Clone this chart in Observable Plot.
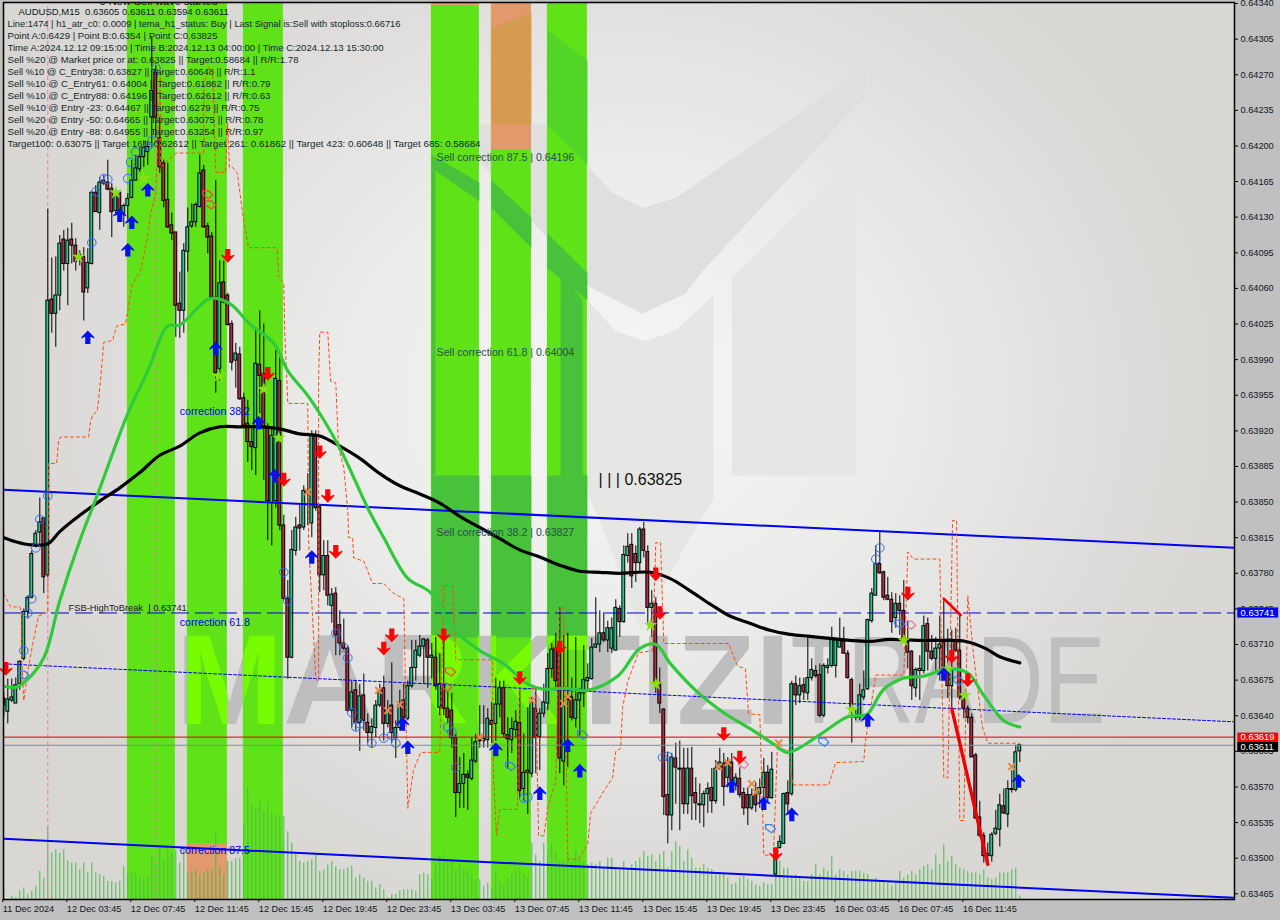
<!DOCTYPE html>
<html><head><meta charset="utf-8">
<script src="https://cdn.jsdelivr.net/npm/d3@7"></script>
<script src="https://cdn.jsdelivr.net/npm/@observablehq/plot@0.6"></script>
<style>
html,body{margin:0;padding:0;background:#c0c0c0;overflow:hidden}
#wrap{position:relative;width:1280px;height:920px}
#bg{position:absolute;left:3px;top:2px;width:1231px;height:897px;background:radial-gradient(ellipse 640px 560px at 50% 44%,#f6f6f6 0%,#ebebea 45%,#dddcda 80%,#d8d7d4 100%)}
#chart{position:absolute;left:0;top:0}
</style></head><body><div id="wrap"><div id="bg"></div><div id="chart"></div></div>
<script>
// All candle values are points above 0.63000 (655 = 0.63655), one per 15-minute bar.
const candleOpen=[657,644,655,652,671,696,742,756,807,820,
834,778,1049,1035,1053,1108,1084,1108,1102,1093,
1091,1060,1084,1154,1134,1166,1164,1158,1136,1154,
1133,1141,1149,1166,1177,1189,1194,1228,1272,1208,
1183,1147,1122,1115,1045,1038,1096,1121,1125,1140,
1176,1121,1111,1051,981,1066,1053,1025,989,995,
952,927,909,903,985,976,923,849,851,969,
827,755,697,802,827,825,861,829,915,845,
778,797,748,760,729,711,706,645,665,633,
660,633,623,628,650,667,632,650,618,628,
655,637,669,687,699,708,714,697,697,648,
671,647,645,618,564,573,582,578,595,618,
615,616,635,632,651,667,621,616,626,633,
568,584,583,647,619,642,652,686,706,709,
595,658,658,637,655,662,674,676,707,710,
721,714,706,704,745,732,797,808,799,790,
823,801,746,750,671,646,562,542,598,587,
588,553,588,564,553,552,563,569,556,588,
593,579,594,573,578,564,562,549,563,563,
569,584,559,484,510,514,564,563,671,660,
670,662,677,684,680,640,687,689,689,707,
713,701,675,638,638,658,666,733,758,789,
781,758,754,736,750,743,712,703,667,684,
684,730,703,696,706,712,687,669,714,704,
658,647,638,601,540,522,502,502,524,528,
551,543,567,567,605];
const candleClose=[650,656,658,670,693,742,756,799,819,830,
776,1048,1035,1053,1104,1084,1107,1102,1086,1089,
1056,1085,1154,1135,1164,1163,1157,1135,1153,1136,
1141,1148,1166,1178,1189,1198,1199,1254,1228,1179,
1146,1120,1114,1043,1038,1097,1120,1125,1142,1173,
1120,1110,1051,977,1065,1046,1024,987,996,951,
925,909,904,986,974,923,851,915,971,827,
755,697,803,825,824,861,859,915,844,778,
797,758,759,719,711,706,645,663,633,659,
635,623,629,650,664,632,645,623,628,650,
638,669,687,704,708,715,697,699,669,671,
647,638,618,564,573,582,579,596,614,615,
617,637,631,651,667,622,617,627,634,566,
584,586,653,618,642,653,686,705,674,598,
650,655,638,655,662,675,677,707,710,721,
714,726,726,746,732,798,806,777,790,823,
802,746,750,671,652,560,542,599,589,588,
553,588,561,554,552,563,568,556,588,594,
570,594,576,579,562,549,549,562,552,569,
584,559,587,500,516,563,553,671,660,669,
663,677,685,679,640,689,689,716,714,714,
701,677,648,640,660,665,734,760,789,780,
756,754,732,750,743,712,702,669,685,686,
728,703,696,706,710,686,669,687,704,658,
647,638,599,539,522,502,504,523,529,552,
544,568,568,604,611];
const candleHigh=[663,676,676,677,694,745,758,802,822,854,
835,1138,1090,1091,1112,1117,1119,1124,1109,1097,
1100,1099,1155,1161,1169,1171,1186,1163,1154,1156,
1143,1153,1186,1191,1198,1205,1205,1307,1279,1228,
1186,1183,1134,1115,1076,1104,1139,1143,1144,1191,
1181,1124,1115,1166,1087,1087,1055,1028,1006,1002,
957,950,923,1021,1038,1025,927,923,999,992,
837,773,822,835,848,866,878,920,920,846,
812,812,765,766,743,735,709,674,674,671,
681,642,637,655,671,679,655,692,635,665,
671,674,714,714,719,716,716,711,717,701,
719,663,662,622,599,603,586,618,622,650,
650,647,653,677,674,674,638,638,645,665,
622,648,658,667,647,671,701,711,721,746,
719,721,677,717,667,709,691,716,756,743,
740,733,736,754,748,807,819,819,807,825,
830,807,763,756,687,647,604,603,613,615,
608,608,609,579,573,566,574,588,596,608,
603,599,603,583,589,569,569,568,574,578,
598,591,604,509,522,564,576,674,679,677,
677,717,696,689,691,691,696,727,716,736,
727,704,677,645,671,684,735,765,807,822,
782,776,761,760,758,773,733,704,687,699,
738,736,719,717,738,753,725,724,726,740,
662,650,642,603,556,525,515,525,547,563,
568,576,586,611,611];
const candleLow=[640,632,653,652,665,694,735,755,805,809,
760,776,1016,1002,1038,1077,1043,1084,1077,1082,
1028,1055,1083,1135,1117,1161,1156,1110,1132,1127,
1120,1127,1148,1165,1174,1179,1181,1198,1208,1173,
1139,1119,1107,1012,1011,1016,1076,1119,1120,1139,
1119,1094,1050,957,969,1045,1023,979,962,950,
923,889,881,876,937,871,812,807,844,822,
753,676,696,797,802,822,827,815,841,761,
763,748,731,699,699,704,643,628,625,605,
625,613,608,618,648,615,628,613,598,625,
625,635,667,674,697,671,667,676,665,640,
640,632,608,540,549,549,547,576,593,608,
608,608,613,615,638,618,588,603,618,559,
556,543,579,583,586,638,645,677,665,583,
571,589,635,628,620,648,663,675,706,702,
712,702,701,704,717,731,790,765,771,780,
795,731,717,662,642,542,514,527,553,527,
543,543,537,537,534,530,544,544,553,586,
551,569,566,566,559,542,532,547,545,549,
549,556,558,482,509,514,544,561,650,652,
655,655,674,677,638,638,681,687,677,707,
701,676,613,635,635,655,665,731,758,779,
753,753,721,726,719,711,686,655,658,655,
681,684,694,684,674,684,657,648,702,655,
637,632,599,538,520,495,494,496,522,511,
543,530,564,565,594];
const tickVolume=[30,0,10,5,27,35,15,25,40,85,
65,220,140,150,140,150,117,110,110,90,
110,80,110,80,75,70,55,55,50,55,
100,75,80,85,70,65,70,130,110,155,
120,150,140,150,110,150,80,85,90,75,
80,90,90,205,100,75,115,115,125,125,
225,335,285,275,300,265,295,265,255,255,
250,205,170,140,115,110,115,120,135,85,
90,105,115,100,90,90,95,100,65,75,
65,55,55,35,45,30,5,15,15,25,
30,30,30,25,75,80,75,62,105,130,
135,125,115,90,105,95,90,75,60,60,
40,50,30,85,55,45,65,75,85,93,
75,65,170,135,115,170,135,170,145,115,
115,135,115,150,125,115,105,110,105,115,
95,125,125,95,95,115,95,105,115,125,
145,130,135,115,135,145,95,145,175,160,
115,150,125,95,95,105,95,90,75,75,
75,65,45,50,65,70,60,55,45,40,
50,45,45,75,115,95,95,70,75,65,
55,55,75,105,75,95,85,130,75,90,
85,75,85,85,85,80,75,60,65,55,
50,50,40,50,85,65,75,85,75,90,
100,105,90,135,105,165,115,130,105,95,
90,85,80,80,75,90,65,60,65,80,
80,80,90,95,10];

// Series: [bar, points]
const maBlack=[[0,815],[3,811],[6.7,808],[11,809],[14,821],[19,837],[24,851],[29,864],[34,879],[39,896],[44,905],[49,918],[54,924],[59,924],[64,924],[69,922],[74,917],[79,915],[84,905],[89,893],[94,878],[99,866],[104,858],[109,849],[114,836],[119,825],[124,814],[129,803],[134,796],[139,788],[144,782],[149,781],[154,780],[161.5,781],[166.5,775],[171.5,763],[176.5,750],[181.5,738],[186.5,731],[191.5,724],[196.5,720],[201.5,718],[206.5,716],[211.5,714],[216.5,713],[221.5,715],[229,714],[234,714],[240.5,713],[245.5,706],[249,698],[254,692]];
const maGreen=[[0,669],[3,668],[5.5,674],[10,697],[14,753],[19,812],[23.5,858],[31,937],[36,979],[41,1023],[44,1024],[51.5,1050],[56.5,1045],[61.5,1025],[67.5,1006],[71,979],[76.5,952],[84,903],[91,844],[95,815],[101,775],[106.7,761],[112.5,725],[119,704],[125,691],[131,671],[135,666],[140,667],[146,665],[153.5,679],[159,706],[163,710],[166.7,691],[173.5,663],[180,643],[186.7,627],[192.5,612],[196,604],[203.5,620],[211,639],[214,640],[216,642],[220,666],[225,677],[230,679],[236,686],[241,682],[245,660],[250,635],[254,629]];
const stopLine=[[0,760],[1.7,747],[4,747],[4.4,741],[4.4,704],[5,655],[6,684],[7.4,714],[8.7,738],[10.4,741],[11,741],[11.2,888],[13.2,888],[13.7,910],[14.2,914],[21.2,914],[21.7,930],[22.2,935],[23.4,940],[24.2,971],[25,1007],[27.2,1009],[28.2,1023],[30.4,1025],[31,1038],[32,1063],[34.2,1078],[36,1112],[36.7,1134],[38,1153],[38.5,1205],[39.2,1277],[39.2,1179],[43,1193],[50,1193],[50,1261],[51.2,1277],[52.2,1274],[53,1174],[55.4,1174],[56,1223],[56.4,1179],[57.2,1179],[58.4,1173],[59.7,1134],[61.2,1100],[68,1100],[68.4,1097],[68.7,1071],[70,1066],[70.2,1021],[71,947],[76,947],[76.2,812],[78,676],[78.7,674],[78.7,972],[79,1017],[81,1017],[81.7,969],[83,967],[83.7,903],[85,884],[86,841],[86.2,815],[87.2,815],[87.5,795],[90,792],[92.2,770],[95,770],[97.2,761],[100,755],[100.4,674],[101,549],[102.4,586],[104.2,604],[106.7,604],[109,604],[110,768],[112.2,768],[113,695],[122.2,695],[122.4,583],[123.2,522],[124,548],[128.4,548],[129,665],[133,667],[133.7,522],[135,522],[136,549],[138,576],[138.4,655],[139,746],[140,746],[141,499],[143.7,499],[146,514],[146.7,544],[150,566],[152.2,579],[153,605],[154.2,608],[154.7,648],[156,674],[158.7,702],[162.2,704],[163,810],[164.2,810],[165,711],[181.2,711],[183.4,689],[185.4,686],[186.2,642],[189,641],[190,503],[192.4,503],[193.4,608],[196.2,606],[197.2,572],[206.2,572],[208,594],[215,595],[215.4,615],[218,680],[225,680],[226,801],[227.4,794],[234,794],[235,579],[236,579],[237.2,832],[238.2,832],[239,537],[240,537],[241,758],[242.4,701],[244.7,628],[246,613],[254,613]];
const channelUpper=[[0,862],[307.7,805]];
const channelLower=[[0,519],[307.7,461]];
const channelMiddle=[[0,691],[307.7,634]];
const waveA=[[235,755],[239.2,739]];
const waveB=[[237,647],[246,494]];

const arrowsUp=[[21,1012],[29,1132],[32,1125],[31,1098],[36,1157],[53,1001],[63.7,928],[67.7,876],[77,796],[99.7,632],[101,609],[123,607],[134,564],[141,611],[144,586],[182,571],[190,554],[197,543],[216,636],[235,681],[253.7,576]];
const arrowsDown=[[0.5,686],[56,1092],[66,976],[70,872],[79,899],[81,856],[83,801],[97,719],[95,706],[110,719],[129,677],[139,707],[163,779],[164,741],[180,622],[184,599],[193,504],[226,760],[237,698],[241,675]];
const swingCircles=[[11,856],[9,833],[23,1155],[25,1168],[26,1167],[31,1168],[31.7,1184],[22,1105],[38,1277],[33,1194],[36,1200],[37,1205],[8,805],[7,755],[6,741],[5,704],[70,781],[71,753],[83,721],[85,707],[86,697],[87,643],[88,629],[89,632],[92,613],[95,618],[97,621],[98,613],[111,629],[112,624],[113,589],[130,559],[131,560],[164.7,599],[166,600],[218,794],[219,805]];
const starMarks=[[18.7,1091],[28,1154],[35,1168],[53.7,974],[65,961],[68.7,913],[161.7,729],[163,671],[212,646],[225,714],[236,686],[240.2,660]];
const crossMarks=[[76,860],[93.7,665],[96,645],[99,651],[119,619],[132,655],[140,652],[141,659],[178.7,590],[181,594],[187,573],[188,565],[193.7,613],[252,590]];
const hollowRed=[[51,1153],[51.7,1143],[111.7,684],[110.7,669]];
const hollowPink=[[184.9,593],[226.7,730]];
const hollowBlue=[[5,681],[126.7,591],[144.7,622],[191.7,530],[205,615],[224,731],[238.7,675]];

const bandStart=[30.9,45.9,59.9,106.9,121.9,135.9];
const bandEnd=[42.9,55.9,69.9,118.9,131.9,145.9];
const timeLabels=["11 Dec 2024","12 Dec 03:45","12 Dec 07:45","12 Dec 11:45","12 Dec 15:45","12 Dec 19:45","12 Dec 23:45","13 Dec 03:45","13 Dec 07:45","13 Dec 11:45","13 Dec 15:45","13 Dec 19:45","13 Dec 23:45","16 Dec 03:45","16 Dec 07:45","16 Dec 11:45"];
const priceTicks=[0.64340,0.64305,0.64270,0.64235,0.64200,0.64165,0.64130,0.64095,0.64060,0.64025,0.63990,0.63955,0.63920,0.63885,0.63850,0.63815,0.63780,0.63745,0.63710,0.63675,0.63640,0.63605,0.63570,0.63535,0.63500,0.63465];
const infoLines=["Line:1474 | h1_atr_c0: 0.0009 | tema_h1_status: Buy | Last Signal is:Sell with stoploss:0.66716",
"Point A:0.6429 | Point B:0.6354 | Point C:0.63825",
"Time A:2024.12.12 09:15:00 | Time B:2024.12.13 04:00:00 | Time C:2024.12.13 15:30:00",
"Sell %20 @ Market price or at: 0.63825 || Target:0.58684 || R/R:1.78",
"Sell %10 @ C_Entry38: 0.63827 || Target:0.60648 || R/R:1.1",
"Sell %10 @ C_Entry61: 0.64004 || Target:0.61862 || R/R:0.79",
"Sell %10 @ C_Entry88: 0.64196 || Target:0.62612 || R/R:0.63",
"Sell %10 @ Entry -23: 0.64467 || Target:0.6279 || R/R:0.75",
"Sell %20 @ Entry -50: 0.64665 || Target:0.63075 || R/R:0.78",
"Sell %20 @ Entry -88: 0.64955 || Target:0.63254 || R/R:0.97",
"Target100: 0.63075 || Target 161: 0.62612 || Target 261: 0.61862 || Target 423: 0.60648 || Target 685: 0.58684"];
const infoWidths=[393,210,376,291,248,263,263,252,256,256,473];

// Background logo and tone patches, [bar, points]
const logoChevron=[[113.7,1221],[136,1221],[152.2,1154],[159.7,1139],[168,1149],[215.4,1277],[215.4,1249],[174.7,1077],[170.4,1055],[159.7,1035],[146.7,1061],[118.7,1186]];
const logoCentre=[[146,1048],[153,1018],[160.4,1008],[168,1019],[177.4,1053],[177.4,853],[171,812],[159.2,723],[151,812],[144.7,871]];
const logoRight=[[182,1071],[213,1188],[213,876],[182,876]];
const toneDark=[
[[106.9,1191],[118.9,1164],[118.9,1146],[106.9,1178]],
[[121.9,1166],[131.9,1130],[131.9,1100],[121.9,1139]],
[[135.9,1114],[145.9,1075],[145.9,1048],[135.9,1080]],
[[139.2,1076],[144.7,1048],[144.7,876],[139.2,876]],
[[106.9,1178],[107.9,1178],[107.9,876],[106.9,876]],
[[106.9,876],[118.9,876],[118.9,717],[106.9,717]],
[[121.9,876],[131.9,876],[131.9,717],[121.9,717]],
[[135.9,876],[145.9,876],[145.9,717],[135.9,717]]];
const toneWedge=[[135.9,1221],[145.9,1181],[145.9,1284],[135.9,1314]];
const toneOchre=[[121.9,1316],[131.9,1331],[131.9,1221],[121.9,1221]];

const price=p=>0.63+p/1e5;
const yMin=0.634594,yMax=0.64341;
const bars=candleOpen.map((o,i)=>({i,o:price(o),c:price(candleClose[i]),h:price(candleHigh[i]),l:price(candleLow[i]),up:candleClose[i]>=o,v:tickVolume[i]}));
const bands=bandStart.map((s,i)=>({s,e:bandEnd[i]}));
const pts=a=>a.map(([x,p])=>({x,y:price(p)}));
const poly=(list)=>list.flatMap((a,z)=>a.map(([x,p])=>({x,y:price(p),z})));
const line=(a,o)=>Plot.line(pts(a),{x:"x",y:"y",clip:"frame",...o});
const XY={x:"x",y:"y"};

const drawPoly=P=>({draw(c,s){const r=Math.sqrt(s/Math.PI);P.forEach(([a,b],i)=>i?c.lineTo(a*r,b*r):c.moveTo(a*r,b*r));c.closePath();}});
const upSym=drawPoly([[0,-1.1],[1.05,0],[1.05,.22],[.42,-.08],[.42,1.1],[-.42,1.1],[-.42,-.08],[-1.05,.22],[-1.05,0]]);
const downSym=drawPoly([[0,1.1],[1.05,0],[1.05,-.22],[.42,.08],[.42,-1.1],[-.42,-1.1],[-.42,.08],[-1.05,-.22],[-1.05,0]]);
const hollowSym=drawPoly([[-1,-.6],[.2,-.6],[1,.2],[.2,1],[-1,.2]]);

const green="#5fe318",wmGray="#bebebe",sans="Liberation Sans";
const wmA={text:()=>"MARKTIZI",x:()=>43,y:()=>price(672),textAnchor:"start",fontSize:128,fontWeight:"bold",fontFamily:sans};
const wmB={text:()=>"TRADE",x:()=>196.7,y:()=>price(672),textAnchor:"start",fontSize:125,fontFamily:sans};
const sellText=(t,level)=>Plot.text([t],{x:()=>108.2,y:()=>level,lineAnchor:"top",dy:3,textAnchor:"start",fill:"#27504c",fontSize:10.6,fontFamily:sans});
const corrText=(t,p)=>Plot.text([t],{x:()=>44,y:()=>price(p),textAnchor:"start",fill:"#0000f0",fontSize:10.6,fontFamily:sans});
const boxText=(t,p)=>Plot.text([t],{x:()=>309.2,y:()=>price(p),textAnchor:"start",fill:"#fff",fontSize:9.4,fontFamily:sans});

const plot=Plot.plot({
  width:1280,height:920,marginLeft:3,marginRight:46,marginTop:2,marginBottom:21,
  style:{background:"transparent",fontFamily:sans,fontSize:"10px",color:"#101820"},
  x:{domain:[-0.075,307.675],axis:null},
  y:{domain:[yMin,yMax],axis:null},
  marks:[
    // logo and watermark
    Plot.line(pts(logoChevron),{...XY,fill:"#dfdfdd",stroke:"none"}),
    Plot.line(pts(logoCentre),{...XY,fill:"#e6e6e5",stroke:"none"}),
    Plot.line(pts(logoRight),{...XY,fill:"#e5e6e5",stroke:"none"}),
    Plot.text([0],{...wmA,fill:wmGray,className:"wm-a"}),
    Plot.text([0],{...wmB,fill:wmGray,className:"wm-b"}),
    // bands
    Plot.rect(bands,{x1:"s",x2:"e",y1:()=>yMin,y2:()=>yMax,fill:green}),
    Plot.line(pts(toneWedge),{...XY,fill:"#53d527",stroke:"none"}),
    Plot.line(poly(toneDark),{...XY,z:"z",fill:"#47c23a",stroke:"none"}),
    Plot.rect([0],{x1:()=>121.9,x2:()=>131.9,y1:()=>price(1196),y2:()=>yMax,fill:"#e2996b"}),
    Plot.line(pts(toneOchre),{...XY,fill:"#d59b50",stroke:"none"}),
    Plot.rect([0],{x1:()=>106.9,x2:()=>118.9,y1:()=>price(1338),y2:()=>yMax,fill:"#e2996b"}),
    Plot.rect([0],{x1:()=>45.9,x2:()=>55.9,y1:()=>yMin,y2:()=>price(514),fill:"#e2996b"}),
    Plot.text([0],{...wmA,fill:"#76fb00",className:"wm-a wm-lime"}),
    // volumes
    Plot.ruleX(bars,{x:"i",y1:()=>yMin,y2:d=>yMin+d.v*0.325/1e5,stroke:"#4db84d",strokeWidth:1}),
    // pink session rules
    Plot.ruleX([11,38],{stroke:"#ea79aa",strokeWidth:1,strokeDasharray:"4,3",y1:()=>yMin,y2:()=>yMax}),
    // candles
    Plot.ruleX(bars,{x:"i",y1:"l",y2:"h",stroke:"#000",strokeWidth:1,clip:"frame"}),
    Plot.rect(bars,{x1:d=>d.i-0.36,x2:d=>d.i+0.36,y1:"o",y2:"c",fill:d=>d.up?"#2cc78c":"#ad2f45",stroke:"#000",strokeWidth:1,clip:"frame"}),
    // levels and channels
    Plot.ruleY([0.63741],{stroke:"#0000cd",strokeWidth:1,strokeDasharray:"18,6"}),
    Plot.ruleY([0.63619],{stroke:"#e00000",strokeWidth:1}),
    Plot.ruleY([0.63611],{stroke:"#808a96",strokeWidth:1}),
    line(channelUpper,{stroke:"#0000f0",strokeWidth:2}),
    line(channelLower,{stroke:"#0000f0",strokeWidth:2}),
    line(channelMiddle,{stroke:"#0000f0",strokeWidth:1,strokeDasharray:"3,2"}),
    line(stopLine,{stroke:"#ff4a10",strokeWidth:1,strokeDasharray:"3,3"}),
    line(maBlack,{stroke:"#000",strokeWidth:3.2,curve:"catmull-rom"}),
    line(maGreen,{stroke:"#31c93c",strokeWidth:3.2,curve:"catmull-rom"}),
    line(waveA,{stroke:"#f00000",strokeWidth:2.6}),
    line(waveB,{stroke:"#f00000",strokeWidth:3.4}),
    // markers
    Plot.dot(pts(swingCircles),{...XY,r:4.3,stroke:"#2f6cf0",strokeWidth:1,fill:"none",clip:"frame"}),
    Plot.dot(pts(starMarks),{...XY,r:4.2,symbol:"star",fill:"#86e012",stroke:"none"}),
    Plot.dot(pts(crossMarks),{...XY,r:3.2,symbol:"times",stroke:"#e28c50",strokeWidth:2}),
    Plot.dot(pts(hollowRed),{...XY,r:5,symbol:hollowSym,fill:"none",stroke:"#f04a3c",strokeWidth:1.2}),
    Plot.dot(pts(hollowPink),{...XY,r:5,symbol:hollowSym,fill:"none",stroke:"#f070a0",strokeWidth:1.2}),
    Plot.dot(pts(hollowBlue),{...XY,r:5,symbol:hollowSym,fill:"none",stroke:"#3c7ce0",strokeWidth:1.2}),
    Plot.dot(pts(arrowsUp),{...XY,r:6.2,symbol:upSym,fill:"#0512ee",stroke:"none"}),
    Plot.dot(pts(arrowsDown),{...XY,r:6.2,symbol:downSym,fill:"#fa0505",stroke:"none"}),
    // annotations
    corrText("correction 38.2",939),
    corrText("correction 61.8",732),
    corrText("correction 87.5",507),
    sellText("Sell correction 87.5 | 0.64196",0.64196),
    sellText("Sell correction 61.8 | 0.64004",0.64004),
    sellText("Sell correction 38.2 | 0.63827",0.63827),
    Plot.text(["| | | 0.63825"],{x:()=>148.7,y:()=>price(872),textAnchor:"start",fill:"#111",fontSize:16,fontFamily:sans}),
    Plot.text(["FSB-HighToBreak  | 0.63741"],{x:()=>16.2,y:()=>price(746),textAnchor:"start",fill:"#181818",fontSize:9.3,fontFamily:sans}),
    // header text
    Plot.text(["0 New Sell wave started"],{frameAnchor:"top-left",dx:96,dy:-1,lineAnchor:"middle",textAnchor:"start",fill:"#111",fontSize:11,clip:"frame",fontFamily:sans}),
    Plot.text(["AUDUSD,M15  0.63605 0.63611 0.63594 0.63611"],{frameAnchor:"top-left",dx:15,dy:9,lineAnchor:"middle",textAnchor:"start",fill:"#0c1a22",fontSize:9.5,fontFamily:sans}),
    ...infoLines.map((t,i)=>Plot.text([t],{frameAnchor:"top-left",dx:4,dy:21.7+12*i,lineAnchor:"middle",textAnchor:"start",fill:"#14282c",fontSize:9.8,fontFamily:sans,className:"info-"+i})),
    // axes and frame
    Plot.axisY({anchor:"right",ticks:priceTicks,tickFormat:d=>d.toFixed(5),tickSize:3,tickPadding:3,fontSize:9.2,fill:"#101820",stroke:"#000",label:null}),
    Plot.axisX({anchor:"bottom",ticks:timeLabels.map((_,i)=>i*16),tickFormat:i=>timeLabels[i/16],tickSize:3,tickPadding:3,textAnchor:"start",dx:-1,fontSize:9.2,fill:"#101820",stroke:"#000",label:null}),
    Plot.frame({stroke:"#000",strokeWidth:1.5,fill:"none"}),
    // price boxes
    Plot.rect([0],{x1:()=>308.5,x2:()=>318.7,y1:()=>price(736),y2:()=>price(746),fill:"#0000f5"}),
    Plot.rect([0],{x1:()=>308.5,x2:()=>318.7,y1:()=>price(614),y2:()=>price(623),fill:"#f50808"}),
    Plot.rect([0],{x1:()=>308.5,x2:()=>318.7,y1:()=>price(604),y2:()=>price(614),fill:"#000"}),
    boxText("0.63741",741),
    boxText("0.63619",619),
    boxText("0.63611",609)
  ]
});
// Fit watermark and header lines to their widths; keep the lime copy inside the bands
d3.select(plot).selectAll(".wm-a text").attr("textLength",615).attr("lengthAdjust","spacingAndGlyphs");
d3.select(plot).selectAll(".wm-b text").attr("textLength",315).attr("lengthAdjust","spacingAndGlyphs");
infoWidths.forEach((w,i)=>d3.select(plot).selectAll(".info-"+i+" text").attr("textLength",w).attr("lengthAdjust","spacingAndGlyphs"));
const sx=plot.scale("x");
const cp=d3.select(plot).insert("defs",":first-child").append("clipPath").attr("id","bandClip");
bands.forEach(b=>cp.append("rect").attr("x",sx.apply(b.s)).attr("width",sx.apply(b.e)-sx.apply(b.s)).attr("y",0).attr("height",920));
d3.select(plot).selectAll(".wm-lime").attr("clip-path","url(#bandClip)");
document.getElementById("chart").appendChild(plot);
</script></body></html>
